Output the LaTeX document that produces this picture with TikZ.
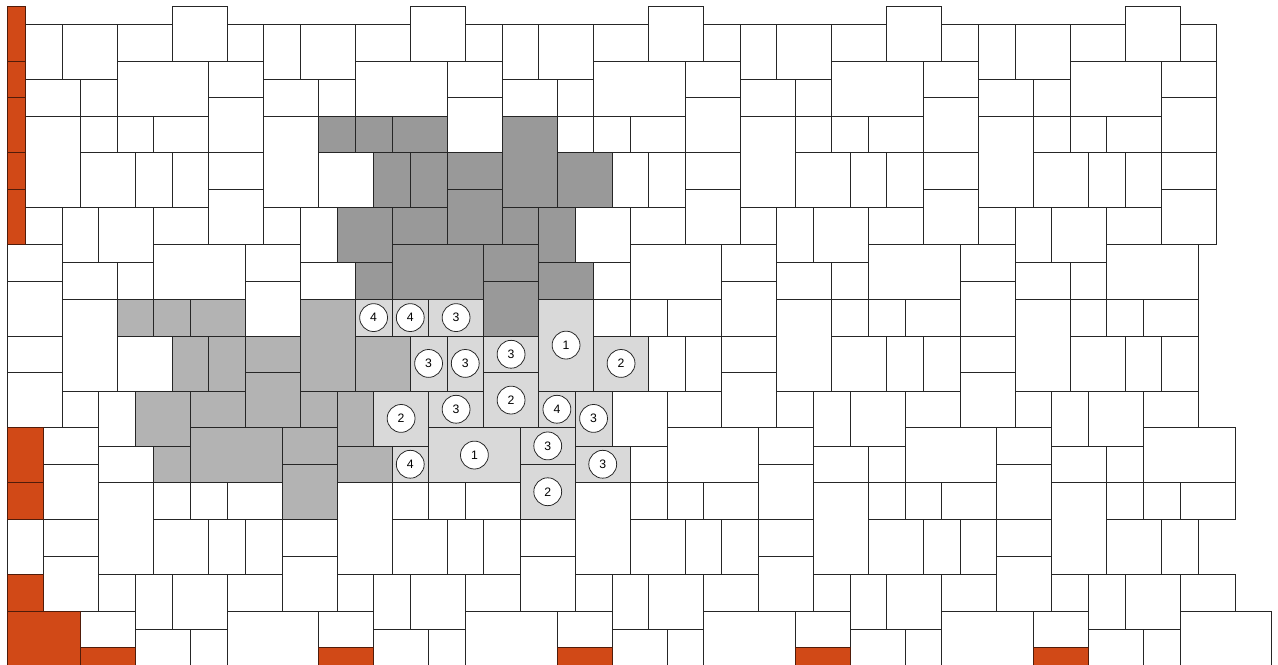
\documentclass[tikz,border=0pt]{standalone}
\usepackage{fontspec}
\setmainfont{Liberation Sans}
\usetikzlibrary{calc}
\definecolor{cutorange}{RGB}{209,73,23}
\definecolor{cutedge}{RGB}{80,28,10}
\definecolor{darkstone}{RGB}{153,153,153}
\definecolor{midstone}{RGB}{179,179,179}
\definecolor{lightstone}{RGB}{217,217,217}

\begin{document}
\begin{tikzpicture}[x=0.5cm,y=-0.5cm,
    tile/.style={draw=black!85,line width=0.6pt,fill=white},
    cuttile/.style={draw=cutedge,line width=0.6pt,fill=cutorange},
    laidtile/.style={tile,fill=darkstone},
    halftile/.style={tile,fill=midstone},
    nexttile/.style={tile,fill=lightstone},
    num/.style={circle,draw=black!85,fill=white,line width=0.6pt,
      minimum size=0.76cm,inner sep=0pt,font=\fontsize{9.5}{10}\selectfont}]

  \useasboundingbox (-0.382,-0.327) rectangle (69.34,35.90);

  % Repeating pattern: motif of 18 stones, periods (13,0) and (2,10)
  \foreach \n in {0,...,3}
    \foreach \m in {-1,...,5}
      \foreach \a/\b/\w/\h in {9/0/3/3, 1/1/2/3, 3/1/3/3, 6/1/3/2, 12/1/2/2,
          6/3/5/3, 11/3/3/2, 1/4/3/2, 4/4/2/2, 11/5/3/3, 1/6/3/5, 4/6/2/2,
          6/6/2/2, 8/6/3/2, 4/8/3/3, 7/8/2/3, 9/8/2/3, 11/8/3/2} {
        \pgfmathtruncatemacro\tx{\a+13*\m+2*\n}
        \pgfmathtruncatemacro\ty{\b+10*\n}
        \pgfmathtruncatemacro\ok{(\tx>=0)*(\tx<=64)*(\ty+\h<=36)}
        \ifnum\ok=1
          \draw[tile] (\tx,\ty) rectangle ++(\w,\h);
        \fi
      }

  % Cut stones along the edges
  \foreach \tx/\ty/\w/\h in {0/0/1/3, 0/3/1/2, 0/5/1/3, 0/8/1/2, 0/10/1/3,
      0/23/2/3, 0/26/2/2, 0/31/2/2, 0/33/4/3,
      4/35/3/1, 17/35/3/1, 30/35/3/1, 43/35/3/1, 56/35/3/1}
    \draw[cuttile] (\tx,\ty) rectangle ++(\w,\h);

  % Stones already laid
  \foreach \tx/\ty/\w/\h in {17/6/2/2, 19/6/2/2, 21/6/3/2, 20/8/2/3, 22/8/2/3,
      24/8/3/2, 27/6/3/5, 30/8/3/3, 24/10/3/3, 18/11/3/3, 21/11/3/2,
      27/11/2/2, 29/11/2/3, 21/13/5/3, 26/13/3/2, 26/15/3/3, 29/14/3/2,
      19/14/2/2}
    \draw[laidtile] (\tx,\ty) rectangle ++(\w,\h);

  \foreach \tx/\ty/\w/\h in {6/16/2/2, 8/16/2/2, 10/16/3/2, 16/16/3/5,
      9/18/2/3, 11/18/2/3, 13/18/3/2, 13/20/3/3, 19/18/3/3, 7/21/3/3,
      10/21/3/2, 16/21/2/2, 18/21/2/3, 10/23/5/3, 15/23/3/2, 8/24/2/2,
      15/25/3/3, 18/24/3/2}
    \draw[halftile] (\tx,\ty) rectangle ++(\w,\h);

  % Next stones with their numbers
  \foreach \tx/\ty/\w/\h/\k in {19/16/2/2/4, 21/16/2/2/4, 23/16/3/2/3,
      29/16/3/5/1, 32/18/3/3/2, 22/18/2/3/3, 24/18/2/3/3, 26/18/3/2/3,
      26/20/3/3/2, 20/21/3/3/2, 23/21/3/2/3, 29/21/2/2/4, 31/21/2/3/3,
      21/24/2/2/4, 23/23/5/3/1, 28/23/3/2/3, 28/25/3/3/2, 31/24/3/2/3} {
    \draw[nexttile] (\tx,\ty) rectangle ++(\w,\h);
    \node[num] (s-\tx-\ty) at ({\tx+\w/2},{\ty+\h/2}) {\k};
  }

\end{tikzpicture}
\end{document}
